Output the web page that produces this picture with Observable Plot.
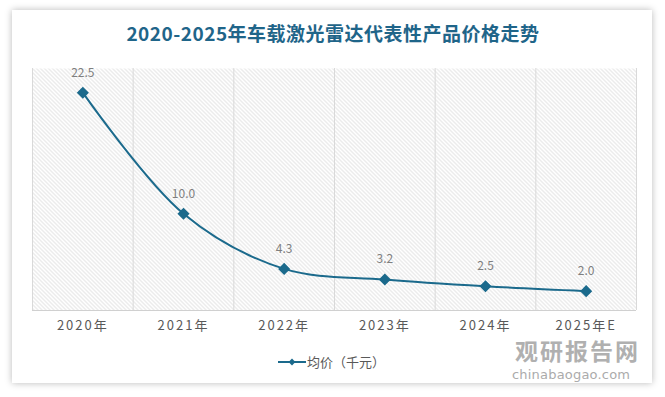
<!DOCTYPE html>
<html>
<head>
<meta charset="utf-8">
<script src="https://cdn.jsdelivr.net/npm/d3@7"></script>
<script src="https://cdn.jsdelivr.net/npm/@observablehq/plot@0.6"></script>
<style>
  html, body { margin:0; padding:0; background:#ffffff; }
  #wrap { position:relative; width:665px; height:397px; overflow:hidden; font-family:"Noto Sans CJK SC","Noto Sans",sans-serif; }
  #card { position:absolute; left:12px; top:10px; width:640px; height:373px; background:#fff; box-shadow:0 0 7px rgba(0,0,0,0.28); }
  #title { position:absolute; left:13px; width:640px; top:23px; line-height:1; text-align:center; font-size:19px; font-weight:bold; color:#1f6589; letter-spacing:0.5px; }
  #chart { position:absolute; left:0; top:0; }
  #legend { position:absolute; left:277px; top:352px; font-size:13px; color:#595959; display:flex; align-items:center; }
  #wm1 { position:absolute; left:515px; top:339px; line-height:1; font-size:23px; font-weight:bold; color:#b0b0b0; letter-spacing:2px; }
  #wm2 { position:absolute; left:512px; top:368px; line-height:1; font-size:13px; color:#ababab; font-family:"DejaVu Sans",sans-serif; letter-spacing:0.2px; }
</style>
</head>
<body>
<div id="wrap">
  <div id="card"></div>
  <div id="chart"></div>
  <div id="title">2020-2025年车载激光雷达代表性产品价格走势</div>
  <div id="legend"></div>
  <div id="wm1">观研报告网</div>
  <div id="wm2">chinabaogao.com</div>
</div>
<script>
const years = ["2020年","2021年","2022年","2023年","2024年","2025年E"];
const prices = [22.5, 10.0, 4.3, 3.2, 2.5, 2.0];
const seriesName = "均价（千元）";

const lineColor = "#1b6a8c";
const data = years.map((y, i) => ({i, year: y, v: prices[i]}));
const idx = years.map((_, i) => i);
const bounds = years.map((_, i) => i - 0.5).concat([years.length - 0.5]);

const svg = Plot.plot({
  width: 665,
  height: 397,
  marginLeft: 32,
  marginRight: 29,
  marginTop: 68,
  marginBottom: 87,
  style: {background: "transparent", fontFamily: "'Noto Sans CJK SC', sans-serif"},
  x: {type: "linear", domain: [-0.5, years.length - 0.5], axis: null, label: null},
  y: {domain: [0, 25], axis: null, label: null},
  marks: [
    Plot.frame({fill: "url(#hatch)", stroke: null}),
    Plot.ruleX(bounds, {stroke: "#d9d9d9", strokeWidth: 1}),
    Plot.ruleY([0], {stroke: "#d0d0d0", strokeWidth: 1.2}),
    Plot.axisX(idx, {label: null, tickSize: 0, tickPadding: 10, tickFormat: i => years[i], fontSize: 13, fill: "#595959"}),
    Plot.line(data, {x: "i", y: "v", curve: "catmull-rom", stroke: lineColor, strokeWidth: 2}),
    Plot.dot(data, {x: "i", y: "v", symbol: "diamond2", r: 4.5, fill: lineColor, stroke: lineColor}),
    Plot.text(data, {x: "i", y: "v", text: d => d.v.toFixed(1), dy: -20, fill: "#7f7f7f", fontSize: 12})
  ]
});

// hatch pattern definition
const defs = d3.create("svg:defs");
const pat = defs.append("pattern")
  .attr("id", "hatch").attr("patternUnits", "userSpaceOnUse")
  .attr("width", 4).attr("height", 4);
pat.append("rect").attr("width", 4).attr("height", 4).attr("fill", "#ffffff");
pat.append("path").attr("d", "M-1,-1 L5,5 M-1,3 L1,5 M3,-1 L5,1")
  .attr("stroke", "#d4d4d4").attr("stroke-width", 0.9);
svg.insertBefore(defs.node(), svg.firstChild);

d3.select(svg).selectAll('g[aria-label="x-axis tick label"] text').style("letter-spacing", "2px");

document.getElementById("chart").appendChild(svg);

// legend
const leg = document.getElementById("legend");
const ls = d3.create("svg").attr("width", 30).attr("height", 14);
ls.append("line").attr("x1", 1).attr("x2", 29).attr("y1", 7).attr("y2", 7).attr("stroke", lineColor).attr("stroke-width", 2);
ls.append("path").attr("d", d3.symbol(d3.symbolDiamond2, 30)()).attr("transform", "translate(15,7)").attr("fill", lineColor);
leg.appendChild(ls.node());
const lt = document.createElement("span");
lt.textContent = seriesName;
leg.appendChild(lt);
</script>
</body>
</html>
